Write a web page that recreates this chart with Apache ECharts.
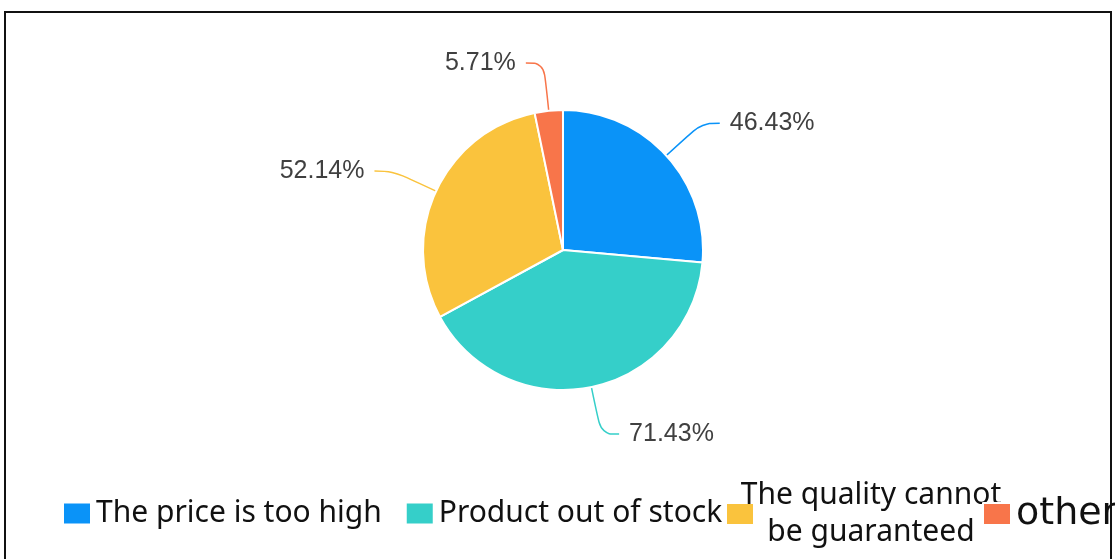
<!DOCTYPE html>
<html>
<head>
<meta charset="utf-8">
<script src="https://cdn.jsdelivr.net/npm/echarts@6/dist/echarts.min.js"></script>
<style>
  html, body { margin: 0; padding: 0; background: #fff; }
  #main { width: 1115px; height: 559px; }
</style>
</head>
<body>
<div id="main"></div>
<script>
var myChart = echarts.init(document.getElementById('main'));

const categories = ['The price is too high', 'Product out of stock', 'The quality cannot be guaranteed', 'other'];
const values = [46.43, 71.43, 52.14, 5.71];
const colors = ['#0a93f8', '#35cfc9', '#fac33d', '#f8754a'];

const pieData = categories.map(function (name, i) {
    return {name: name, value: values[i], itemStyle: {color: colors[i]}};
});

// legend text style shared by the legend blocks
const legendText = {
    fontFamily: 'Noto Sans',
    fontSize: 30,
    lineHeight: 37,
    color: '#111',
    rich: {
        q: {fontFamily: 'Noto Sans', fontSize: 30, lineHeight: 37, width: 224, align: 'center', color: '#111'},
        o: {fontFamily: 'DejaVu Sans', fontSize: 38, color: '#111'}
    }
};

function legendFormatter(name) {
    if (name === 'The quality cannot be guaranteed') {
        return '{q|The quality cannot}\n{q|be guaranteed}';
    }
    if (name === 'other') {
        return '{o|other}';
    }
    return name;
}

function legendBlock(left, top, names, gap) {
    return {
        left: left,
        top: top,
        width: 800,
        itemWidth: 28,
        itemHeight: 22,
        itemGap: gap,
        icon: 'rect',
        textStyle: legendText,
        formatter: legendFormatter,
        data: names
    };
}

let option = {
    animation: false,
    graphic: [
        {
            type: 'rect',
            shape: {x: 5, y: 12, width: 1106, height: 600},
            style: {fill: 'none', stroke: '#111', lineWidth: 2},
            silent: true
        }
    ],
    legend: [
        legendBlock(57, 490, categories.slice(0, 2), 23),
        legendBlock(720, 472, categories.slice(2, 3), 0),
        legendBlock(977, 490, categories.slice(3), 0)
    ],
    series: [
        {
            type: 'pie',
            center: [563, 250],
            radius: 140,
            startAngle: 90,
            clockwise: true,
            itemStyle: {borderColor: '#fff', borderWidth: 2},
            label: {
                show: true,
                formatter: function (p) { return p.value.toFixed(2) + '%'; },
                fontFamily: 'Liberation Sans',
                fontSize: 25,
                color: '#404040',
                distanceToLabelLine: 10
            },
            labelLine: {
                show: true,
                length: 48,
                length2: 18,
                smooth: 0.4,
                lineStyle: {width: 1.5}
            },
            data: pieData
        }
    ]
};

myChart.setOption(option);
</script>
</body>
</html>
